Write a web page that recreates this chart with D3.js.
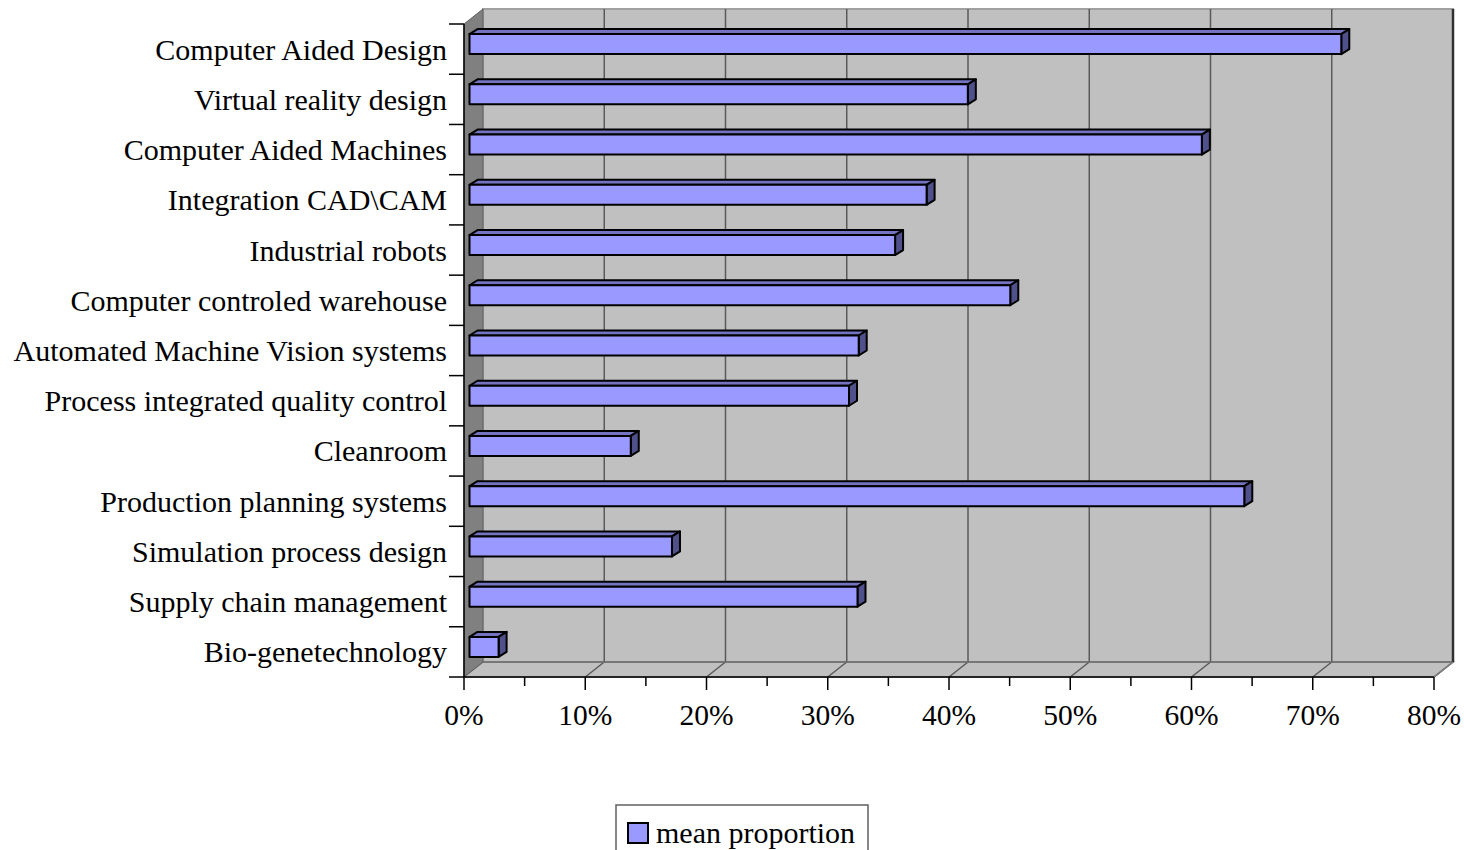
<!DOCTYPE html>
<html>
<head>
<meta charset="utf-8">
<script src="https://cdn.jsdelivr.net/npm/d3@7"></script>
<style>
  html, body { margin: 0; padding: 0; background: #fff; }
  svg { display: block; font-family: 'Liberation Serif', 'Times New Roman', serif; }
</style>
</head>
<body>
<svg id="chart" width="1464" height="850"></svg>
<script>
const categories = [
  'Computer Aided Design',
  'Virtual reality design',
  'Computer Aided Machines',
  'Integration CAD\\CAM',
  'Industrial robots',
  'Computer controled warehouse',
  'Automated Machine Vision systems',
  'Process integrated quality control',
  'Cleanroom',
  'Production planning systems',
  'Simulation process design',
  'Supply chain management',
  'Bio-genetechnology'
]
const meanProportion = [0.719, 0.411, 0.604, 0.377, 0.351, 0.446, 0.321, 0.313, 0.133, 0.639, 0.167, 0.320, 0.024]
const xTicks = [0, 0.1, 0.2, 0.3, 0.4, 0.5, 0.6, 0.7, 0.8]
const seriesName = 'mean proportion'

drawChart()

function drawChart() {
  const svg = d3.select('#chart')
  const depth = { dx: 19, dy: -15 } // wall depth
  const bar = { front: 5.5, dx: 8, dy: -5, top: -15, bottom: 5 }

  const x = d3.scaleLinear().domain([0, 0.8]).range([464, 1434])
  const y = d3.scaleBand().domain(categories).range([24, 677])
  const x0 = x(0), x1 = x(0.8), yTop = y.range()[0], yBot = y.range()[1]

  const pts = a => a.map(p => p.join(',')).join(' ')

  // back wall
  svg.append('polygon')
    .attr('points', pts([[x0 + depth.dx, yTop + depth.dy], [x1 + depth.dx, yTop + depth.dy],
      [x1 + depth.dx, yBot + depth.dy], [x0 + depth.dx, yBot + depth.dy]]))
    .attr('fill', '#c0c0c0')
    .attr('stroke', '#a0a0a0')
    .attr('stroke-width', 2)

  // floor
  svg.append('polygon')
    .attr('points', pts([[x0, yBot], [x0 + depth.dx, yBot + depth.dy],
      [x1 + depth.dx, yBot + depth.dy], [x1, yBot]]))
    .attr('fill', '#c0c0c0')
    .attr('stroke', '#808080')
    .attr('stroke-width', 1.5)

  // grid lines on wall and floor
  const grid = svg.append('g').attr('stroke', '#5a5a5a').attr('stroke-width', 1.5).attr('fill', 'none')
  xTicks.slice(1).forEach(t => {
    grid.append('polyline')
      .attr('points', pts([[x(t) + depth.dx, yTop + depth.dy], [x(t) + depth.dx, yBot + depth.dy], [x(t), yBot]]))
  })
  grid.append('line')
    .attr('x1', x0 + depth.dx).attr('x2', x1 + depth.dx)
    .attr('y1', yBot + depth.dy).attr('y2', yBot + depth.dy)
    .attr('stroke', '#707070')
  grid.append('line')
    .attr('x1', x1 + depth.dx).attr('x2', x1 + depth.dx)
    .attr('y1', yTop + depth.dy).attr('y2', yBot + depth.dy)
    .attr('stroke', '#303030').attr('stroke-width', 2.5)

  // left side wall
  svg.append('polygon')
    .attr('points', pts([[x0, yTop], [x0 + depth.dx, yTop + depth.dy],
      [x0 + depth.dx, yBot + depth.dy], [x0, yBot]]))
    .attr('fill', '#808080')
    .attr('stroke', '#606060')
    .attr('stroke-width', 1)

  // bars
  const bars = svg.append('g')
    .selectAll('g')
    .data(categories.map((c, i) => ({ name: c, value: meanProportion[i] })))
    .join('g')
    .attr('stroke', '#000')
    .attr('stroke-width', 2)
    .attr('stroke-linejoin', 'round')

  const face = d => {
    const cy = y(d.name) + y.bandwidth() / 2
    return { l: x(0) + bar.front, r: x(d.value) + bar.front, t: cy + bar.top, b: cy + bar.bottom }
  }

  bars.append('polygon') // top
    .attr('fill', '#7373c0')
    .attr('points', d => {
      const f = face(d)
      return pts([[f.l, f.t], [f.l + bar.dx, f.t + bar.dy], [f.r + bar.dx, f.t + bar.dy], [f.r, f.t]])
    })
  bars.append('polygon') // side
    .attr('fill', '#50508a')
    .attr('points', d => {
      const f = face(d)
      return pts([[f.r, f.t], [f.r + bar.dx, f.t + bar.dy], [f.r + bar.dx, f.b + bar.dy], [f.r, f.b]])
    })
  bars.append('rect') // front
    .attr('fill', '#9999ff')
    .attr('x', d => face(d).l)
    .attr('y', d => face(d).t)
    .attr('width', d => face(d).r - face(d).l)
    .attr('height', d => face(d).b - face(d).t)

  // y axis
  const yAxis = svg.append('g').attr('stroke', '#000').attr('stroke-width', 1.5)
  yAxis.append('line').attr('x1', x0).attr('x2', x0).attr('y1', yTop).attr('y2', yBot)
  categories.concat([null]).forEach((c, i) => {
    const yy = c ? y(c) : yBot
    yAxis.append('line').attr('x1', x0 - 15).attr('x2', x0).attr('y1', yy).attr('y2', yy)
  })
  svg.append('g')
    .selectAll('text')
    .data(categories)
    .join('text')
    .attr('x', 447)
    .attr('y', d => y(d) + y.bandwidth() / 2)
    .attr('dy', '0.35em')
    .attr('text-anchor', 'end')
    .attr('font-size', 30)
    .attr('fill', '#000')
    .text(d => d)

  // x axis
  const xAxis = svg.append('g').attr('stroke', '#000').attr('stroke-width', 1.5)
  xAxis.append('line').attr('x1', x0).attr('x2', x1).attr('y1', yBot).attr('y2', yBot)
  xTicks.forEach(t => {
    xAxis.append('line').attr('x1', x(t)).attr('x2', x(t)).attr('y1', yBot).attr('y2', yBot + 13)
    if (t < 0.8) {
      xAxis.append('line').attr('x1', x(t + 0.05)).attr('x2', x(t + 0.05)).attr('y1', yBot).attr('y2', yBot + 9)
    }
  })
  xAxis.append('line')
    .attr('x1', x1).attr('y1', yBot).attr('x2', x1 + depth.dx).attr('y2', yBot + depth.dy)
    .attr('stroke', '#808080')
  svg.append('g')
    .selectAll('text')
    .data(xTicks)
    .join('text')
    .attr('x', d => x(d))
    .attr('y', 725)
    .attr('text-anchor', 'middle')
    .attr('font-size', 29.5)
    .text(d3.format('.0%'))

  // legend
  const legend = svg.append('g')
  legend.append('rect')
    .attr('x', 616).attr('y', 805).attr('width', 252).attr('height', 60)
    .attr('fill', '#fff').attr('stroke', '#606060').attr('stroke-width', 1.5)
  legend.append('rect')
    .attr('x', 628).attr('y', 823).attr('width', 20).attr('height', 20)
    .attr('fill', '#9999ff').attr('stroke', '#000').attr('stroke-width', 2)
  legend.append('text')
    .attr('x', 656).attr('y', 843)
    .attr('font-size', 30)
    .text(seriesName)
}
</script>
</body>
</html>
